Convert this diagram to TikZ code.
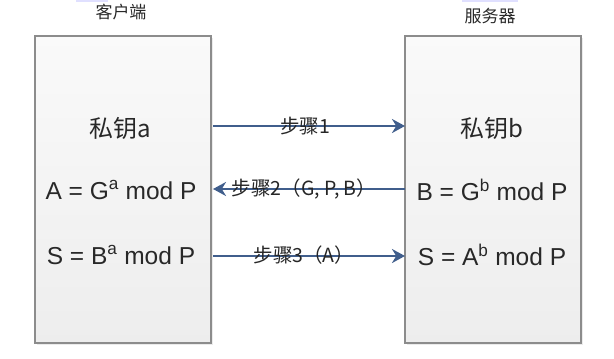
\documentclass[tikz,border=0pt]{standalone}
\usepackage{fontspec}
\setmainfont{Liberation Sans}
\newfontfamily\cjkfont{Noto Sans CJK SC}
\usepackage{xcolor}
\usetikzlibrary{arrows.meta,shadows}

\definecolor{stepblue}{RGB}{64,94,140}
\definecolor{boxline}{RGB}{140,140,140}
\definecolor{textgray}{RGB}{40,40,40}

\begin{document}
\begin{tikzpicture}[x=1pt, y=-1pt, line width=0.4pt,
  party/.style={draw=boxline, line width=1.3pt, top color=black!2, bottom color=black!7,
    minimum width=176pt, minimum height=307pt, inner sep=0pt,
    drop shadow={shadow xshift=2pt, shadow yshift=-2pt, fill=black!8, opacity=1}},
  formula/.style={font=\fontsize{24.5}{28}\selectfont, text=textgray, inner sep=0pt},
  keyname/.style={font=\cjkfont\fontsize{24}{28}\selectfont, text=textgray, inner sep=0pt},
  steplabel/.style={font=\cjkfont\fontsize{19.5}{21}\selectfont, text=black!85, inner sep=0pt},
  stepline/.style={draw=stepblue, line width=2.6pt, -{Stealth[length=13pt, width=14pt]}}]
  \useasboundingbox (0,0) rectangle (614,359);
  % faint marks at the top edge
  \fill[blue!12] (76,0) rectangle (108,2);
  \fill[blue!12] (462,0) rectangle (518,2);
  % the two parties
  \node[party] (client) at (123,189.5) {};
  \node[party] (server) at (493,189.5) {};
  \node[font=\cjkfont\fontsize{17}{19}\selectfont, text=textgray] (clientname) at (121,12) {客户端};
  \node[font=\cjkfont\fontsize{17}{19}\selectfont, text=textgray] (servername) at (490,16) {服务器};
  % contents of the boxes
  \node[keyname] (ka) at (120,128) {私钥a};
  \node[formula] (pa) at (121,190) {A = G\textsuperscript{a} mod P};
  \node[formula] (sa) at (121,255) {S = B\textsuperscript{a} mod P};
  \node[keyname] (kb) at (492,128) {私钥b};
  \node[formula] (pb) at (492,190) {B = G\textsuperscript{b} mod P};
  \node[formula] (sb) at (492,255) {S = A\textsuperscript{b} mod P};
  % arrow ends on the box edges
  \foreach \row/\y in {one/126, two/189, three/256} {
    \coordinate (l\row) at (213,\y);
    \coordinate (r\row) at (405,\y);
  }
  % steps of the exchange
  \draw[stepline] (lone) -- (rone);
  \draw[stepline] (rtwo) -- (ltwo);
  \draw[stepline] (lthree) -- (rthree);
  \node[steplabel] (stepone) at (305,126) {步骤1};
  \node[steplabel] (steptwo) at (304,189) {步骤2（G, P, B）};
  \node[steplabel] (stepthree) at (304,255) {步骤3（A）};
\end{tikzpicture}
\end{document}
